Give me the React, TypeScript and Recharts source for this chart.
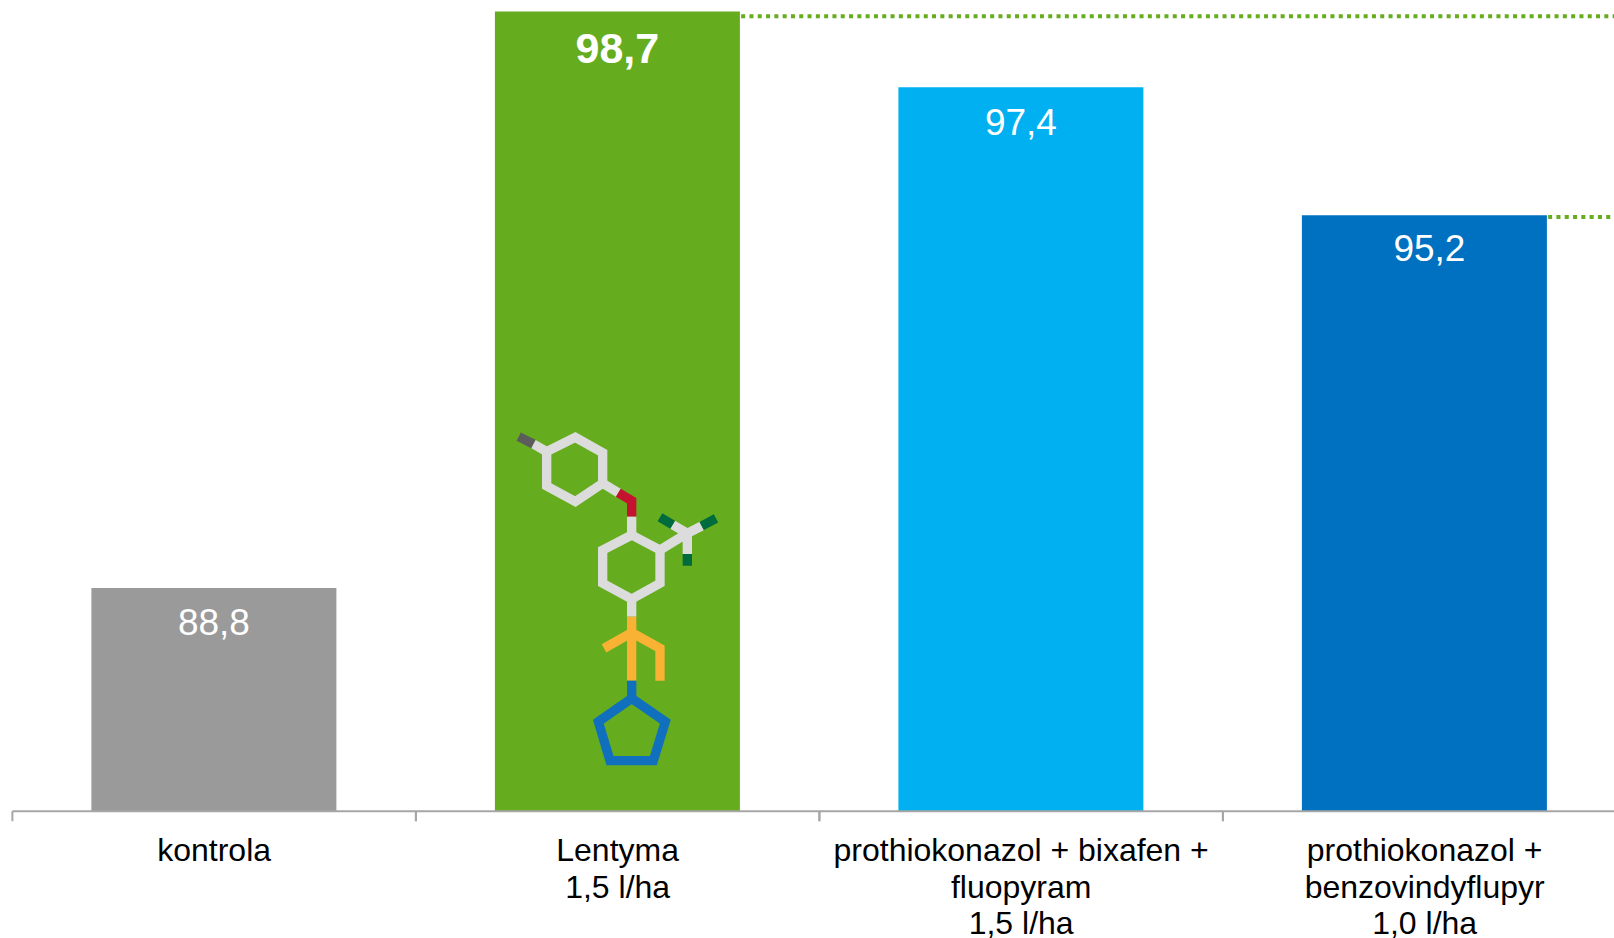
import { BarChart, Bar, Cell, XAxis, YAxis, LabelList, ReferenceLine } from "recharts";

const categories = [
  "kontrola",
  "Lentyma\n1,5 l/ha",
  "prothiokonazol + bixafen +\nfluopyram\n1,5 l/ha",
  "prothiokonazol +\nbenzovindyflupyr\n1,0 l/ha",
];
const values = [88.8, 98.7, 97.4, 95.2];
const barColors = ["#9a9a9a", "#65ac1e", "#00b0f0", "#0070c0"];
const highlighted = "Lentyma\n1,5 l/ha";
const dottedLevels = [98.62, 95.17];

const chartData = categories.map((name, i) => ({ name, value: values[i] }));

const FONT = "'Liberation Sans', Arial, sans-serif";
const BAND = 403.5;
const BAR_W = 245;
const GREY = "#a6a6a6";
const GREEN = "#65ac1e";
// hand placed labels in the original slide
const labelDx = [0, 0, 0, 5];
const labelDy = [47, 52, 48, 46];

// x axis: PowerPoint style ticks sit between the categories, text is centred in the band
const CategoryTick = (props: any) => {
  const { x, y, payload } = props;
  const lines = String(payload.value).split("\n");
  return (
    <g>
      <line x1={x - BAND / 2} x2={x - BAND / 2} y1={y - 8} y2={y + 2} stroke={GREY} strokeWidth={2} />
      <line x1={x + BAND / 2} x2={x + BAND / 2} y1={y - 8} y2={y + 2} stroke={GREY} strokeWidth={2} />
      <text textAnchor="middle" fontFamily={FONT} fontSize={32} fill="#000">
        {lines.map((l: string, i: number) => (
          <tspan key={i} x={x} y={y + 42 + i * 36.5}>
            {l}
          </tspan>
        ))}
      </text>
    </g>
  );
};

const ValueLabel = (props: any) => {
  const { x, y, width, value, index } = props;
  const big = categories[index] === highlighted;
  return (
    <text
      x={x + width / 2 + labelDx[index]}
      y={y + labelDy[index]}
      textAnchor="middle"
      fontFamily={FONT}
      fontSize={big ? 43 : 37}
      fontWeight={big ? 700 : 400}
      fill="#fff"
    >
      {String(value).replace(".", ",")}
    </text>
  );
};

// starts at the right edge of the bar and runs off the picture
const DottedLine = (props: any) => (
  <line
    x1={props.x1 + BAR_W / 2 + 1}
    x2={1700}
    y1={props.y1}
    y2={props.y1}
    stroke={GREEN}
    strokeWidth={4}
    strokeDasharray="4 4.3"
  />
);

const L = "#dcdcdc";
const Molecule = () => (
  <svg
    width={280}
    height={400}
    viewBox="0 0 840 1200"
    style={{ position: "absolute", left: 480, top: 400 }}
    fill="none"
    strokeWidth={28}
  >
    <path d="M286 112L368 158V250L286 305L200 258V155Z" stroke={L} />
    <path d="M200 155L160 132" stroke={L} />
    <path d="M160 132L116 110" stroke="#5c5c5c" />
    <path d="M368 250L415 278" stroke={L} />
    <path d="M415 278L455 302V350" stroke="#c4122f" />
    <path d="M455 350V405" stroke={L} />
    <path d="M455 405L540 450V550L455 597L368 550V450Z" stroke={L} />
    <path d="M540 450L622 400M622 400L665 378M622 400L578 374M622 400V462" stroke={L} />
    <path d="M665 378L708 355M578 374L540 352M622 462V497" stroke="#006b3c" />
    <path d="M455 597V650" stroke={L} />
    <path d="M455 650V842M372 745L455 698L540 745V842" stroke="#f9b233" />
    <path d="M455 842V895" stroke="#1070bd" />
    <path d="M455 895L556 965L520 1082H390L355 965Z" stroke="#1070bd" />
  </svg>
);

export default function App() {
  return (
    <div
      style={{
        position: "absolute",
        left: 0,
        top: 0,
        width: 1614,
        height: 938,
        overflow: "hidden",
        background: "#fff",
      }}
    >
      <div style={{ position: "absolute", left: 0, top: -20 }}>
        <BarChart
          width={1641.4}
          height={980}
          data={chartData}
          barCategoryGap={0}
          margin={{ top: 14, right: 15, bottom: 0, left: 12.4 }}
        >
          <XAxis
            dataKey="name"
            interval={0}
            height={148.8}
            axisLine={{ stroke: GREY, strokeWidth: 2 }}
            tickLine={false}
            tick={<CategoryTick />}
          />
          <YAxis hide domain={[84.97, 99]} />
          <Bar dataKey="value" barSize={BAR_W} isAnimationActive={false}>
            {chartData.map((d, i) => (
              <Cell key={d.name} fill={barColors[i]} />
            ))}
            <LabelList dataKey="value" content={<ValueLabel />} />
          </Bar>
          <ReferenceLine
            ifOverflow="visible"
            segment={[
              { x: categories[1], y: dottedLevels[0] },
              { x: categories[3], y: dottedLevels[0] },
            ]}
            shape={<DottedLine />}
          />
          <ReferenceLine
            ifOverflow="visible"
            segment={[
              { x: categories[3], y: dottedLevels[1] },
              { x: categories[3], y: dottedLevels[1] },
            ]}
            shape={<DottedLine />}
          />
        </BarChart>
      </div>
      <Molecule />
    </div>
  );
}
